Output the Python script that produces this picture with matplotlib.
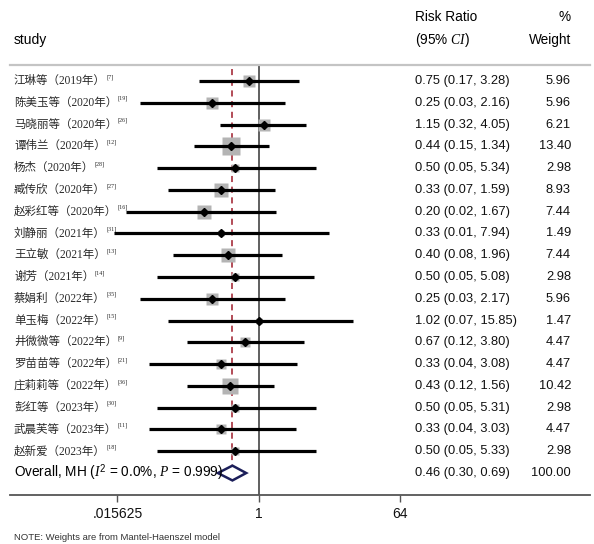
import numpy as np
import matplotlib
matplotlib.use("Agg")
import matplotlib.pyplot as plt
import matplotlib.transforms as mtransforms
from matplotlib.patches import Polygon

plt.rcParams['font.family'] = ['Liberation Sans', 'DejaVu Sans']
plt.rcParams['mathtext.fontset'] = 'custom'
plt.rcParams['mathtext.it'] = 'Liberation Serif:italic'
plt.rcParams['mathtext.rm'] = 'Liberation Sans'

# ---- data ----
studies = ['江琳等（2019年）', '陈美玉等（2020年）', '马晓丽等（2020年）', '谭伟兰（2020年）',
           '杨杰（2020年）', '臧传欣（2020年）', '赵彩红等（2020年）', '刘静丽（2021年）',
           '王立敏（2021年）', '谢芳（2021年）', '蔡娟利（2022年）', '单玉梅（2022年）',
           '井微微等（2022年）', '罗苗苗等（2022年）', '庄莉莉等（2022年）', '彭红等（2023年）',
           '武晨芙等（2023年）', '赵新爱（2023年）']
refs = ['[7]', '[19]', '[26]', '[12]', '[28]', '[27]', '[16]', '[31]', '[13]',
        '[14]', '[35]', '[15]', '[9]', '[21]', '[36]', '[30]', '[11]', '[18]']
rr = [0.75, 0.25, 1.15, 0.44, 0.50, 0.33, 0.20, 0.33, 0.40,
      0.50, 0.25, 1.02, 0.67, 0.33, 0.43, 0.50, 0.33, 0.50]
lo = [0.17, 0.03, 0.32, 0.15, 0.05, 0.07, 0.02, 0.014, 0.08,
      0.05, 0.03, 0.07, 0.12, 0.04, 0.12, 0.05, 0.04, 0.05]
hi = [3.28, 2.16, 4.05, 1.34, 5.34, 1.59, 1.67, 7.94, 1.96,
      5.08, 2.17, 15.85, 3.80, 3.08, 1.56, 5.31, 3.03, 5.33]
weight = [5.96, 5.96, 6.21, 13.40, 2.98, 8.93, 7.44, 1.49, 7.44,
          2.98, 5.96, 1.47, 4.47, 4.47, 10.42, 2.98, 4.47, 2.98]
overall = [0.46, 0.30, 0.69]
overall_label = r'Overall, MH ($I^2$ = 0.0%, $P$ = 0.999)'
xticks = [1 / 64, 1, 64]
xtick_labels = ['.015625', '1', '64']

W, H = 594, 544
fig = plt.figure(figsize=(W / 100, H / 100), dpi=100)
ax = fig.add_axes([10 / W, (H - 495) / H, 580 / W, 430 / H])

# x: log2 scale, 1/64 at px 117.5, 1 at px 258.8
ppu = 141.3 / 6
ax.set_xscale('log', base=2)
ax.set_xlim(2 ** ((10 - 258.8) / ppu), 2 ** ((590 - 258.8) / ppu))
step = 21.78
ax.set_ylim(1 + 414 / step, 1 - 16 / step)

n = len(studies)
rows = np.arange(1, n + 1)
orow = n + 1

ax.axvline(1, color='#444444', lw=1.2, zorder=1)
ax.vlines(overall[0], 0.45, orow + 0.35, color='#9e1b2a', lw=1.1,
          linestyles=(0, (4, 3)), zorder=2)

for i in range(n):
    ax.plot([lo[i], hi[i]], [rows[i], rows[i]], color='black', lw=2.3,
            solid_capstyle='butt', zorder=4)
    side = 4.9 * np.sqrt(weight[i]) * 0.72
    ax.plot(rr[i], rows[i], marker='s', ms=side, color='#b4b4b4', mec='none', zorder=3)
    ax.plot(rr[i], rows[i], marker='D', ms=3.6, color='black', zorder=5)

d = Polygon([(overall[1], orow), (overall[0], orow - 0.34),
             (overall[2], orow), (overall[0], orow + 0.34)],
            closed=True, fc='white', ec='#1c1f5a', lw=1.8, zorder=3)
ax.add_patch(d)

for s in ['left', 'right']:
    ax.spines[s].set_visible(False)
ax.spines['top'].set_color('#c4c4c4')
ax.spines['top'].set_linewidth(1.6)
ax.spines['bottom'].set_color('#555555')
ax.spines['bottom'].set_linewidth(1.3)
ax.set_yticks([])
ax.set_xticks(xticks)
ax.set_xticklabels(xtick_labels)
ax.xaxis.set_minor_locator(matplotlib.ticker.NullLocator())
ax.tick_params(axis='x', length=5, width=1, color='#555555', pad=4,
               labelsize=10, labelcolor='#111111')

tr = mtransforms.blended_transform_factory(fig.transFigure, ax.transData)
cjk = ['Liberation Serif', 'Noto Sans CJK SC']
for i in range(n):
    t = ax.text(14 / W, rows[i], studies[i], transform=tr, family=cjk,
                fontsize=8.3, color='#2a2a2a', va='center', ha='left')
    ax.annotate(refs[i], xy=(1, 0.5), xycoords=t, xytext=(0.4, 1),
                textcoords='offset points', fontsize=4.3, color='#2a2a2a',
                family='Liberation Serif', va='bottom', ha='left')
    ax.text(415 / W, rows[i], f'{rr[i]:.2f} ({lo[i]:.2f}, {hi[i]:.2f})',
            transform=tr, fontsize=9.3, va='center', ha='left', color='#111111')
    ax.text(571 / W, rows[i], f'{weight[i]:.2f}', transform=tr,
            fontsize=9.3, va='center', ha='right', color='#111111')

ax.text(14 / W, orow, overall_label, transform=tr, fontsize=9.8,
        va='center', ha='left', color='black')
ax.text(415 / W, orow, f'{overall[0]:.2f} ({overall[1]:.2f}, {overall[2]:.2f})',
        transform=tr, fontsize=9.3, va='center', ha='left', color='#111111')
ax.text(571 / W, orow, '100.00', transform=tr, fontsize=9.3,
        va='center', ha='right', color='#111111')

# headers
fig.text(14 / W, 1 - 40 / H, 'study', fontsize=10, va='center', ha='left')
fig.text(415 / W, 1 - 17 / H, 'Risk Ratio', fontsize=9.8, va='center', ha='left')
fig.text(415 / W, 1 - 40 / H, r'(95% $CI$)', fontsize=9.8, va='center', ha='left')
fig.text(571 / W, 1 - 17 / H, '%', fontsize=9.8, va='center', ha='right')
fig.text(571 / W, 1 - 40 / H, 'Weight', fontsize=9.8, va='center', ha='right')

fig.text(14 / W, 1 - 537 / H, 'NOTE: Weights are from Mantel-Haenszel model',
         fontsize=6.8, va='center', ha='left', color='#333333')

fig.savefig('out.png', dpi=100)
